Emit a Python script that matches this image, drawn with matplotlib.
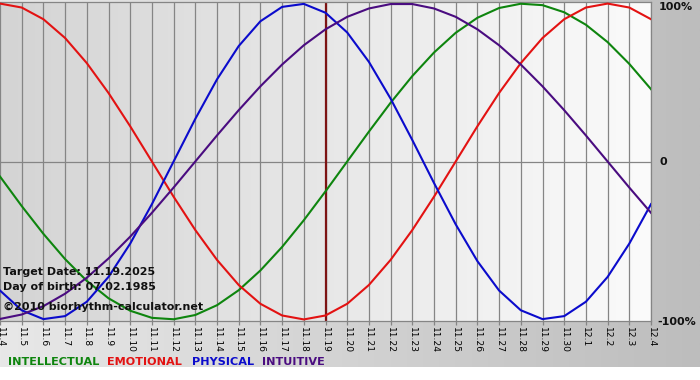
import matplotlib
matplotlib.use('Agg')
import matplotlib.pyplot as plt
import numpy as np
from matplotlib.colors import LinearSegmentedColormap

# ---------------- data ----------------
dates = ["11.4", "11.5", "11.6", "11.7", "11.8", "11.9", "11.10", "11.11", "11.12",
         "11.13", "11.14", "11.15", "11.16", "11.17", "11.18", "11.19", "11.20",
         "11.21", "11.22", "11.23", "11.24", "11.25", "11.26", "11.27", "11.28",
         "11.29", "11.30", "12.1", "12.2", "12.3", "12.4"]

intellectual = [-0.095, -0.282, -0.458, -0.618, -0.756, -0.866, -0.945, -0.990, -0.999,
                -0.972, -0.910, -0.815, -0.690, -0.541, -0.372, -0.189, 0.000, 0.189,
                0.372, 0.541, 0.690, 0.815, 0.910, 0.972, 0.999, 0.990, 0.945, 0.866,
                0.756, 0.618, 0.458]
emotional = [1.000, 0.975, 0.901, 0.782, 0.623, 0.434, 0.223, 0.000, -0.223, -0.434,
             -0.623, -0.782, -0.901, -0.975, -1.000, -0.975, -0.901, -0.782, -0.623,
             -0.434, -0.223, 0.000, 0.223, 0.434, 0.623, 0.782, 0.901, 0.975, 1.000,
             0.975, 0.901]
physical = [-0.817, -0.942, -0.998, -0.979, -0.888, -0.731, -0.520, -0.270, 0.000, 0.270,
            0.520, 0.731, 0.888, 0.979, 0.998, 0.942, 0.817, 0.631, 0.398, 0.136,
            -0.136, -0.398, -0.631, -0.817, -0.942, -0.998, -0.979, -0.888, -0.731,
            -0.520, -0.270]
intuitive = [-0.997, -0.969, -0.916, -0.837, -0.736, -0.614, -0.476, -0.325, -0.165, 0.000,
             0.165, 0.325, 0.476, 0.614, 0.736, 0.837, 0.916, 0.969, 0.997, 0.997, 0.969,
             0.916, 0.837, 0.736, 0.614, 0.476, 0.325, 0.165, 0.000, -0.165, -0.325]

series_names = ["INTELLECTUAL", "EMOTIONAL", "PHYSICAL", "INTUITIVE"]
target_date = "11.19"
y_labels = ["100%", "0", "-100%"]
info_lines = ["Target Date: 11.19.2025", "Day of birth: 07.02.1985",
              "\u00a92010 biorhythm-calculator.net"]

# ---------------- styles ----------------
colors = ["#0e850e", "#e31212", "#0b0bcc", "#4a0c80"]
W, H = 700, 380
PL, PR, PT, PB = 0, 651, 2, 321

fig = plt.figure(figsize=(W / 100, H / 100), dpi=100)
fig.patch.set_facecolor("white")

# outer background
bg = fig.add_axes([0, 0, 1, 1])
bg.set_xlim(0, W)
bg.set_ylim(H, 0)
bg.axis("off")
grad = np.linspace(0, 1, 256).reshape(1, -1)
bg.imshow(grad, cmap=LinearSegmentedColormap.from_list("o", ["#e8e8e8", "#bdbdbd"]),
          extent=[0, W, 367, 0], aspect="auto", interpolation="bilinear")

# plot axes
ax = fig.add_axes([PL / W, (H - PB) / H, (PR - PL) / W, (PB - PT) / H])
x = np.arange(len(dates))
ax.set_xlim(0, len(dates) - 1)
ax.set_ylim(-1.01, 1.01)
ax.imshow(grad, cmap=LinearSegmentedColormap.from_list("i", ["#d4d4d4", "#fbfbfb"]),
          extent=[0, len(dates) - 1, -1.01, 1.01], aspect="auto",
          interpolation="bilinear", zorder=0)

for xi in x:
    ax.axvline(xi, color="#858585", lw=0.9, zorder=1)
ax.axhline(0, color="#858585", lw=0.9, zorder=1)
ax.axvline(dates.index(target_date), color="#7d1414", lw=1.6, zorder=2)

for vals, c in zip([intellectual, emotional, physical, intuitive], colors):
    ax.plot(x, vals, color=c, lw=1.5, zorder=3, solid_joinstyle="round")

for s in ax.spines.values():
    s.set_color("#858585")
    s.set_linewidth(0.9)
ax.spines["left"].set_visible(False)

ax.set_yticks([])
ax.set_xticks(x)
ax.set_xticklabels(dates)
ax.tick_params(axis="x", length=3, color="#858585", width=0.9, labelsize=6.6, pad=1,
               labelcolor="black")
for lbl in ax.get_xticklabels():
    lbl.set_rotation(270)
    lbl.set_ha("center")
    lbl.set_va("top")

# right labels
for lab, py in zip(y_labels, [7, 162, 322]):
    fig.text(659 / W if lab != "-100%" else 657 / W, 1 - py / H, lab, ha="left",
             va="center", fontsize=8, fontweight="bold", color="#111111")

# info text
for line, py in zip(info_lines, [272, 287, 307]):
    fig.text(3 / W, 1 - py / H, line, ha="left", va="center", fontsize=8,
             fontweight="bold", color="#111111", zorder=10)

# legend
for name, c, px in zip(series_names, colors, [8, 107, 192, 262]):
    fig.text(px / W, 1 - 362 / H, name, ha="left", va="center", fontsize=8.1,
             fontweight="bold", color=c)

fig.savefig("out.png", dpi=100)
